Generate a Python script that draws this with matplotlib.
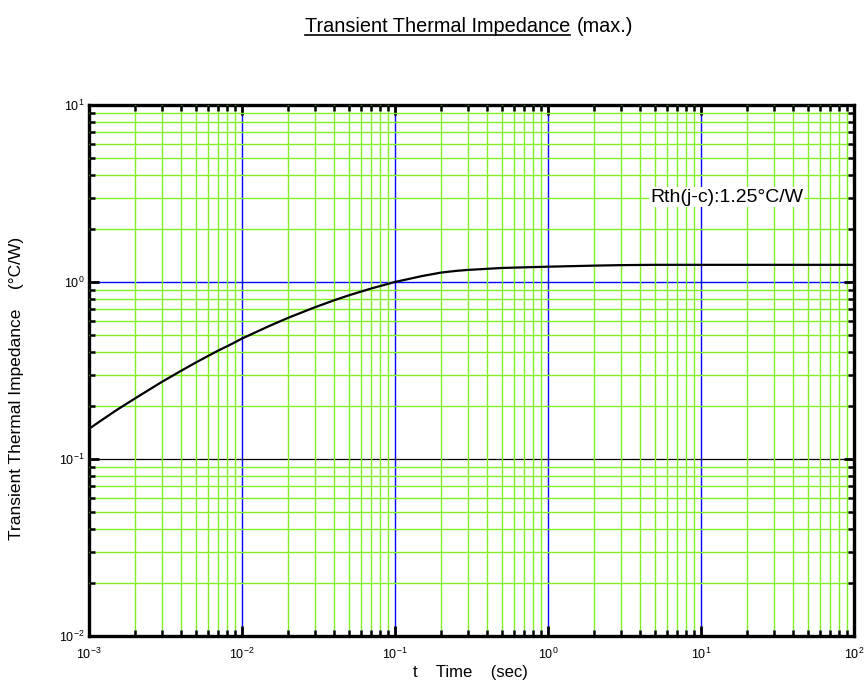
import numpy as np
import matplotlib.pyplot as plt
from matplotlib.ticker import LogLocator, NullFormatter

plt.rcParams["font.family"] = ["Liberation Sans", "DejaVu Sans"]

# curve (t in sec, Zth in °C/W)
t_sec = [1e-3, 1.2e-3, 1.5e-3, 2e-3, 3e-3, 4e-3, 5e-3, 6e-3, 7e-3, 8.5e-3,
         1e-2, 1.5e-2, 2e-2, 3e-2, 4e-2, 5e-2, 7e-2, 1e-1, 1.2e-1, 1.5e-1,
         2e-1, 2.5e-1, 3e-1, 5e-1, 7e-1, 1.0, 2.0, 3.0, 5.0, 10.0, 100.0]
zth = [0.148, 0.165, 0.188, 0.220, 0.273, 0.315, 0.351, 0.382, 0.410, 0.445,
       0.479, 0.563, 0.627, 0.720, 0.788, 0.841, 0.919, 1.0, 1.035, 1.08,
       1.13, 1.155, 1.17, 1.20, 1.21, 1.22, 1.237, 1.245, 1.25, 1.25, 1.25]

x_major = [1e-3, 1e-2, 1e-1, 1e0, 1e1, 1e2]
y_major = [1e-2, 1e-1, 1e0, 1e1]
x_blue = [1e-2, 1e-1, 1e0, 1e1]
y_blue = [1e0]
y_black = [1e-1]
rth_note = "Rth(j-c):1.25°C/W"

fig = plt.figure(figsize=(8.66, 6.97), dpi=100)
ax = fig.add_axes([0.1028, 0.0875, 0.8832, 0.7619])
ax.set_xscale("log")
ax.set_yscale("log")
ax.set_xlim(1e-3, 1e2)
ax.set_ylim(1e-2, 1e1)
ax.set_axisbelow(False)

# minor grid in green, selected decade lines in blue / black
ax.xaxis.set_minor_locator(LogLocator(base=10, subs=np.arange(2, 10), numticks=20))
ax.yaxis.set_minor_locator(LogLocator(base=10, subs=np.arange(2, 10), numticks=20))
ax.xaxis.set_minor_formatter(NullFormatter())
ax.yaxis.set_minor_formatter(NullFormatter())
ax.grid(which="minor", color="#80f020", lw=1.0)
for v in x_blue:
    ax.axvline(v, color="#0000ff", lw=1.0, zorder=1.0)
for v in y_blue:
    ax.axhline(v, color="#0000ff", lw=1.0, zorder=1.0)
for v in y_black:
    ax.axhline(v, color="black", lw=0.9, zorder=1.0)

ax.plot(t_sec, zth, color="black", lw=1.6, zorder=3)

ax.set_xticks(x_major)
ax.set_yticks(y_major)
ax.tick_params(which="both", direction="in", top=True, right=True,
               labelsize=9)
ax.tick_params(which="major", length=7.5, width=2)
ax.tick_params(which="minor", length=4.5, width=1.8)
ax.tick_params(axis="x", pad=8)
for s in ax.spines.values():
    s.set_linewidth(2.4)

note = ax.text(650, 697 - 197, rth_note, transform=None, fontsize=14,
               va="center", ha="left",
               bbox=dict(facecolor="white", edgecolor="none", pad=1), zorder=4)

fig.text(470 / 866, 1 - 672 / 697, "t    Time    (sec)", fontsize=12,
         ha="center", va="center")
fig.text(17 / 866, 1 - 388 / 697, "Transient Thermal Impedance    (°C/W)",
         fontsize=12.5, rotation=90, ha="center", va="center")

# underlined title + "(max.)"
title = fig.text(305 / 866, 1 - 32 / 697, "Transient Thermal Impedance",
                 fontsize=14.3, ha="left", va="baseline")
fig.canvas.draw()
bb = title.get_window_extent()
fig.text((bb.x1 + 7) / 866, 1 - 32 / 697, "(max.)", fontsize=14.3,
         ha="left", va="baseline")
fig.add_artist(plt.Line2D([bb.x0 / 866, bb.x1 / 866],
                          [1 - 35 / 697, 1 - 35 / 697],
                          transform=fig.transFigure, color="black", lw=1.2))

fig.savefig("out.png", dpi=100, facecolor="white")
